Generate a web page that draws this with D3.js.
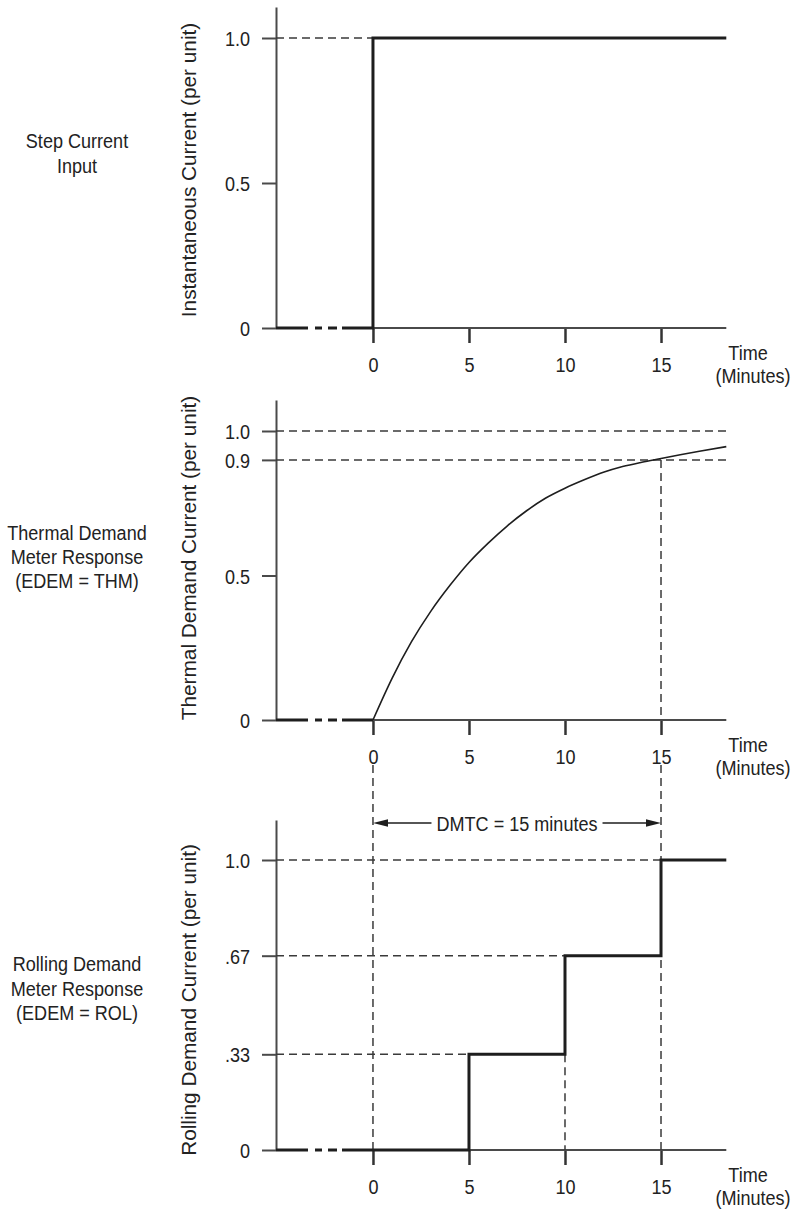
<!DOCTYPE html>
<html><head><meta charset="utf-8">
<script src="https://cdn.jsdelivr.net/npm/d3@7"></script>
<style>
html,body{margin:0;padding:0;background:#fff;}
svg text{font-family:"Liberation Sans",Arial,sans-serif;fill:#222;font-size:21px;}
</style></head><body>
<svg id="c" width="791" height="1213"></svg>
<script>
// ---- data ----
const xTicks = [0, 5, 10, 15];
const xTickLabels = ["0", "5", "10", "15"];
const timeMin = -5.05, timeMax = 18.4;

const stepTime = [-5.05, 0, 0, 18.4];
const stepCurrent = [0, 0, 1, 1];

const thermalPreTime = [-5.05, 0];
const thermalPreCurrent = [0, 0];
const thermalTime = [0, 1, 2, 3, 4, 5, 6, 7, 8, 9, 10, 11, 12, 13, 14, 15, 16, 17, 18.4];
const thermalCurrent = [0, 0.145, 0.27, 0.375, 0.465, 0.545, 0.612, 0.672, 0.724, 0.768, 0.802, 0.831, 0.857, 0.877, 0.892, 0.905, 0.918, 0.93, 0.946];

const rollingTime = [-5.05, 5, 5, 10, 10, 15, 15, 18.4];
const rollingCurrent = [0, 0, 0.33, 0.33, 0.67, 0.67, 1, 1];

const yTicks1 = [0, 0.5, 1.0], yLabels1 = ["0", "0.5", "1.0"];
const yTicks2 = [0, 0.5, 0.9, 1.0], yLabels2 = ["0", "0.5", "0.9", "1.0"];
const yTicks3 = [0, 0.33, 0.67, 1.0], yLabels3 = ["0", ".33", ".67", "1.0"];

const leftLabels1 = ["Step Current", "Input"];
const leftLabels2 = ["Thermal Demand", "Meter Response", "(EDEM = THM)"];
const leftLabels3 = ["Rolling Demand", "Meter Response", "(EDEM = ROL)"];
const yTitles = ["Instantaneous Current (per unit)", "Thermal Demand Current (per unit)", "Rolling Demand Current (per unit)"];
const dmtcText = "DMTC = 15 minutes";
const dmtcSpan = [0, 15];

// ---- drawing ----
const SX = 0.86;      // condensed text
const SX_TITLE = 0.99;
const svg = d3.select("#c");
const AX = "#4a4a4a", DARK = "#1e1e1e";
const x = d3.scaleLinear().domain([timeMin, timeMax]).range([276, 726.3]);

function txt(px, py, s, anchor, rot, sx) {
  return svg.append("text")
    .attr("transform", `translate(${px},${py})${rot ? " rotate(" + rot + ")" : ""} scale(${sx || SX},1)`)
    .attr("text-anchor", anchor || "middle").text(s);
}

function panel(zeroY, topY, unitPx, ticks, labels) {
  const topVal = (zeroY - topY) / unitPx;
  const y = d3.scaleLinear().domain([0, topVal]).range([zeroY, topY]);
  const ya = d3.axisLeft(y).tickValues(ticks).tickFormat((d, i) => labels[i]).tickSize(14).tickSizeOuter(0).tickPadding(12);
  const g = svg.append("g").attr("transform", `translate(${x(timeMin)},0)`).call(ya);
  g.select(".domain").attr("stroke", AX).attr("stroke-width", 2);
  g.selectAll(".tick line").attr("stroke", AX).attr("stroke-width", 2);
  g.selectAll(".tick text").attr("font-size", null).attr("font-family", null).attr("dy", "0.36em")
    .each(function () { const t = d3.select(this); const xx = +t.attr("x"); t.attr("x", xx / SX).attr("transform", `scale(${SX},1)`); });
  const xa = d3.axisBottom(x).tickValues(xTicks).tickFormat((d, i) => xTickLabels[i]).tickSize(15).tickPadding(20);
  const gx = svg.append("g").attr("transform", `translate(0,${zeroY})`).call(xa);
  gx.select(".domain").remove();
  gx.selectAll(".tick line").attr("stroke", "#333").attr("stroke-width", 2.5);
  gx.selectAll(".tick text").attr("font-size", null).attr("font-family", null).attr("dy", "0.45em").attr("transform", `scale(${SX},1)`);
  svg.append("line").attr("x1", x(0)).attr("x2", x(timeMax)).attr("y1", zeroY).attr("y2", zeroY)
    .attr("stroke", AX).attr("stroke-width", 2);
  txt(748, zeroY + 32, "Time");
  txt(753, zeroY + 55, "(Minutes)");
  return y;
}

function dashed(x1, y1, x2, y2) {
  svg.append("line").attr("x1", x1).attr("y1", y1).attr("x2", x2).attr("y2", y2)
    .attr("stroke", "#3a3a3a").attr("stroke-width", 1.5).attr("stroke-dasharray", "8 5");
}
function leftLabel(lines, y0, lh) {
  lines.forEach((s, i) => txt(77, y0 + i * lh, s));
}
function yTitle(s, cy) { txt(196, cy, s, "middle", -90, SX_TITLE); }

const line = d3.line().x(d => x(d[0])).y(d => d[1]);
const brokenDash = "32 7 7 6 9 5 3000";

// Panel 1
const y1 = panel(328, 7, 290, yTicks1, yLabels1);
dashed(x(timeMin), y1(1), x(0), y1(1));
svg.append("path").attr("d", line(stepTime.map((t, i) => [t, y1(stepCurrent[i])])))
  .attr("fill", "none").attr("stroke", DARK).attr("stroke-width", 3).attr("stroke-dasharray", brokenDash);
leftLabel(leftLabels1, 148, 25);
yTitle(yTitles[0], 170);

// Panel 2
const y2 = panel(720, 400, 289, yTicks2, yLabels2);
dashed(x(timeMin), y2(1), x(timeMax), y2(1));
dashed(x(timeMin), y2(0.9), x(timeMax), y2(0.9));
svg.append("path").attr("d", line(thermalPreTime.map((t, i) => [t, y2(thermalPreCurrent[i])])))
  .attr("fill", "none").attr("stroke", DARK).attr("stroke-width", 3).attr("stroke-dasharray", brokenDash);
svg.append("path").attr("d", d3.line().curve(d3.curveMonotoneX)(thermalTime.map((t, i) => [x(t), y2(thermalCurrent[i])])))
  .attr("fill", "none").attr("stroke", DARK).attr("stroke-width", 1.6);
leftLabel(leftLabels2, 540, 24);
yTitle(yTitles[1], 558);

// Panel 3
const y3 = panel(1150, 820, 290, yTicks3, yLabels3);
dashed(x(timeMin), y3(1), x(15), y3(1));
dashed(x(timeMin), y3(0.67), x(10), y3(0.67));
dashed(x(timeMin), y3(0.33), x(5), y3(0.33));
dashed(x(10), y3(0.33), x(10), y3(0));
dashed(x(0), 765, x(0), y3(0));
dashed(x(15), y2(0.9), x(15), y2(0));
dashed(x(15), 765, x(15), y3(0));
svg.append("path").attr("d", line(rollingTime.map((t, i) => [t, y3(rollingCurrent[i])])))
  .attr("fill", "none").attr("stroke", DARK).attr("stroke-width", 3).attr("stroke-dasharray", brokenDash);
leftLabel(leftLabels3, 971, 24.5);
yTitle(yTitles[2], 1000);

// DMTC arrow
const ay = 823;
const ax0 = x(dmtcSpan[0]), ax1 = x(dmtcSpan[1]);
const cx = (ax0 + ax1) / 2;
const tt = txt(cx, ay + 7.5, dmtcText);
const w = tt.node().getComputedTextLength() * SX;
svg.append("line").attr("x1", ax0 + 10).attr("x2", cx - w / 2 - 5).attr("y1", ay).attr("y2", ay).attr("stroke", DARK).attr("stroke-width", 1.5);
svg.append("line").attr("x1", cx + w / 2 + 5).attr("x2", ax1 - 10).attr("y1", ay).attr("y2", ay).attr("stroke", DARK).attr("stroke-width", 1.5);
svg.append("path").attr("d", `M${ax0},${ay}L${ax0 + 15},${ay - 3.8}L${ax0 + 15},${ay + 3.8}Z`).attr("fill", DARK);
svg.append("path").attr("d", `M${ax1},${ay}L${ax1 - 15},${ay - 3.8}L${ax1 - 15},${ay + 3.8}Z`).attr("fill", DARK);
</script>
</body></html>
